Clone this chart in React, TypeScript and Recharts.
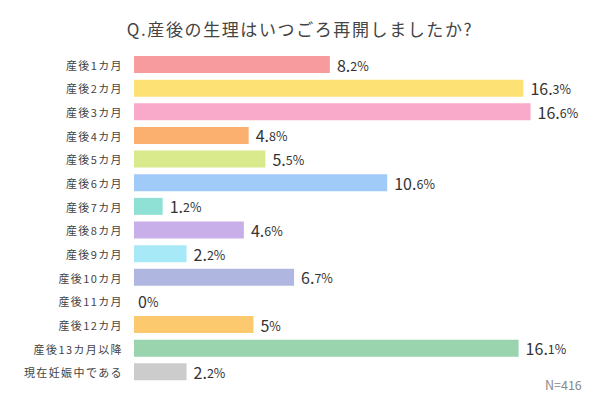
import * as React from 'react';
import { BarChart, Bar, XAxis, YAxis, Cell, LabelList } from 'recharts';

const categories = [
  '産後1カ月',
  '産後2カ月',
  '産後3カ月',
  '産後4カ月',
  '産後5カ月',
  '産後6カ月',
  '産後7カ月',
  '産後8カ月',
  '産後9カ月',
  '産後10カ月',
  '産後11カ月',
  '産後12カ月',
  '産後13カ月以降',
  '現在妊娠中である',
];

const values = [8.2, 16.3, 16.6, 4.8, 5.5, 10.6, 1.2, 4.6, 2.2, 6.7, 0, 5, 16.1, 2.2];

const colors = [
  '#F89B9F',
  '#FDE175',
  '#F9AACA',
  '#FBB070',
  '#D9EA8C',
  '#A0CAF8',
  '#8EE1D4',
  '#C9AFE9',
  '#A8E9F8',
  '#AFB7E0',
  '#CCCCCC',
  '#FDC96E',
  '#99D4AF',
  '#CCCCCC',
];

const title = 'Q.産後の生理はいつごろ再開しましたか?';
const note = 'N=416';

const FONT = '"Noto Sans CJK JP", "Noto Sans", sans-serif';

const data = categories.map((name, i) => ({ name, value: values[i] }));

// category label on the left, right-aligned just before the bars
function CategoryTick(props: any) {
  const { x, y, payload } = props;
  return (
    <text
      x={x - 3}
      y={y}
      textAnchor="end"
      dominantBaseline="central"
      fontSize={11}
      letterSpacing={1.4}
      fill="#444"
      fontFamily={FONT}
    >
      {payload.value}
    </text>
  );
}

// "16.3%" style: whole part large, decimals and % smaller
function ValueLabel(props: any) {
  const { x, y, width, height, value } = props;
  const [whole, dec] = String(value).split('.');
  const gap = value === 0 ? 4 : 7;
  return (
    <text
      x={x + width + gap}
      y={y + height / 2}
      dominantBaseline="central"
      fill="#333"
      fontFamily={FONT}
    >
      <tspan fontSize={16}>{whole}{dec ? '.' : ''}</tspan>
      <tspan fontSize={12.5}>{dec ?? ''}%</tspan>
    </text>
  );
}

export default function App() {
  return (
    <div
      style={{
        position: 'absolute',
        left: 0,
        top: 0,
        width: 600,
        height: 400,
        background: '#fff',
        fontFamily: FONT,
      }}
    >
      <div
        style={{
          position: 'absolute',
          left: 0,
          top: 16,
          width: 600,
          textAlign: 'center',
          fontSize: 17,
          letterSpacing: 1.6,
          color: '#444',
          fontWeight: 400,
        }}
      >
        {title}
      </div>
      <BarChart
        width={600}
        height={400}
        layout="vertical"
        data={data}
        margin={{ top: 53, right: 36, bottom: 16, left: 0 }}
        barSize={17}
      >
        <XAxis type="number" domain={[0, 18]} hide />
        <YAxis
          type="category"
          dataKey="name"
          width={134}
          axisLine={false}
          tickLine={false}
          tick={<CategoryTick />}
          interval={0}
        />
        <Bar dataKey="value" isAnimationActive={false} minPointSize={0.01}>
          {data.map((d, i) => (
            <Cell key={d.name} fill={colors[i]} />
          ))}
          <LabelList dataKey="value" content={<ValueLabel />} />
        </Bar>
      </BarChart>
      <div
        style={{
          position: 'absolute',
          left: 545,
          top: 375,
          fontSize: 12.5,
          color: '#888',
        }}
      >
        {note}
      </div>
    </div>
  );
}
